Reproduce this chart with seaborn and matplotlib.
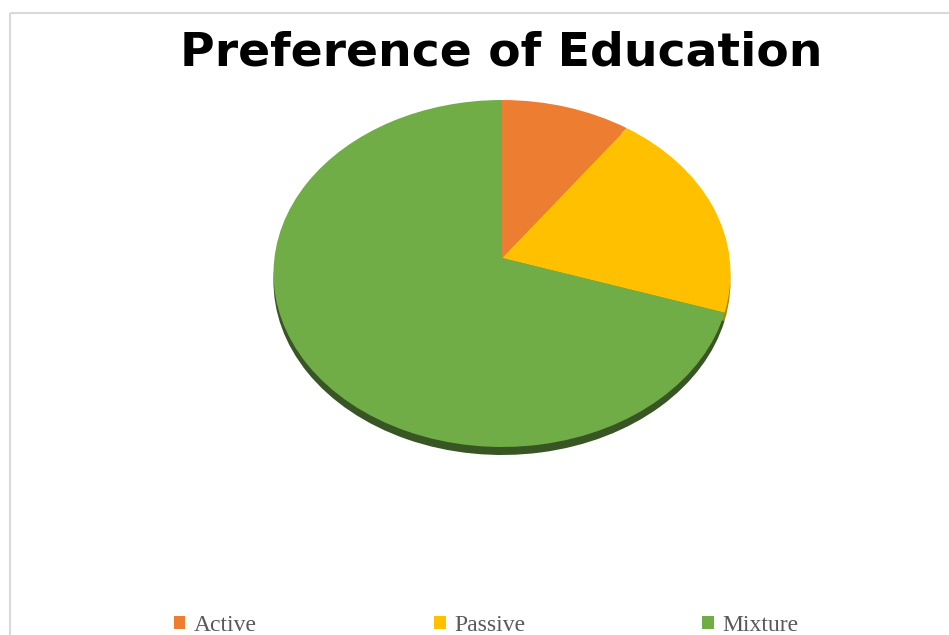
import matplotlib.pyplot as plt
import matplotlib.transforms as mtransforms
import numpy as np
import seaborn as sns
from matplotlib.patches import Rectangle

# data
categories = ['Active', 'Passive', 'Mixture']
shares = [10, 20, 70]
colors = ['#ed7d31', '#ffc000', '#70ad47']
side_colors = ['#a0521c', '#b08600', '#375623']

sns.set_theme(style='white')


class Tilt(mtransforms.Transform):
    """perspective squash of the unit pie onto pixel coords"""
    input_dims = output_dims = 2

    def __init__(self, cx, cy, a, b, k):
        super().__init__()
        self.cx, self.cy, self.a, self.b, self.k = cx, cy, a, b, k

    def transform_non_affine(self, values):
        v = np.asarray(values, dtype=float)
        d = 1 + self.k * v[:, 1]
        return np.column_stack([self.cx + self.a * v[:, 0] / d,
                                self.cy - self.b * v[:, 1] / d])


fig = plt.figure(figsize=(9.49, 6.35), dpi=100, facecolor='white')
ax = fig.add_axes([0, 0, 1, 1])

side, _ = ax.pie(shares, colors=side_colors, startangle=90, counterclock=False,
                 wedgeprops=dict(linewidth=0))
top, _ = ax.pie(shares, colors=colors, startangle=90, counterclock=False,
                wedgeprops=dict(linewidth=0))

ax.set_aspect('auto')
ax.set_xlim(0, 949)
ax.set_ylim(635, 0)
ax.axis('off')

for w in side:
    w.set_transform(Tilt(502, 266, 227.6, 172.1, 0.0893) + ax.transData)
    w.set_zorder(1)
for w in top:
    w.set_transform(Tilt(502, 258, 227.6, 172.1, 0.0893) + ax.transData)
    w.set_zorder(2)

ax.add_patch(Rectangle((10.5, 12.5), 1000, 1000, fill=False, edgecolor='#d9d9d9',
                       linewidth=1.5, clip_on=False))

fig.text(501 / 949, 1 - 66 / 635, 'Preference of Education', ha='center', va='baseline',
         fontsize=34, fontweight='bold', family='DejaVu Sans', color='black')

leg = fig.legend(top, categories, loc='lower center', bbox_to_anchor=(486 / 949, -0.02),
                 ncol=3, frameon=False, handlelength=0.5, handleheight=0.5,
                 handletextpad=0.35, columnspacing=7.5, borderpad=0,
                 prop=dict(family='Liberation Serif', size=17))
for t in leg.get_texts():
    t.set_color('#595959')

fig.savefig('out.png', dpi=100)
